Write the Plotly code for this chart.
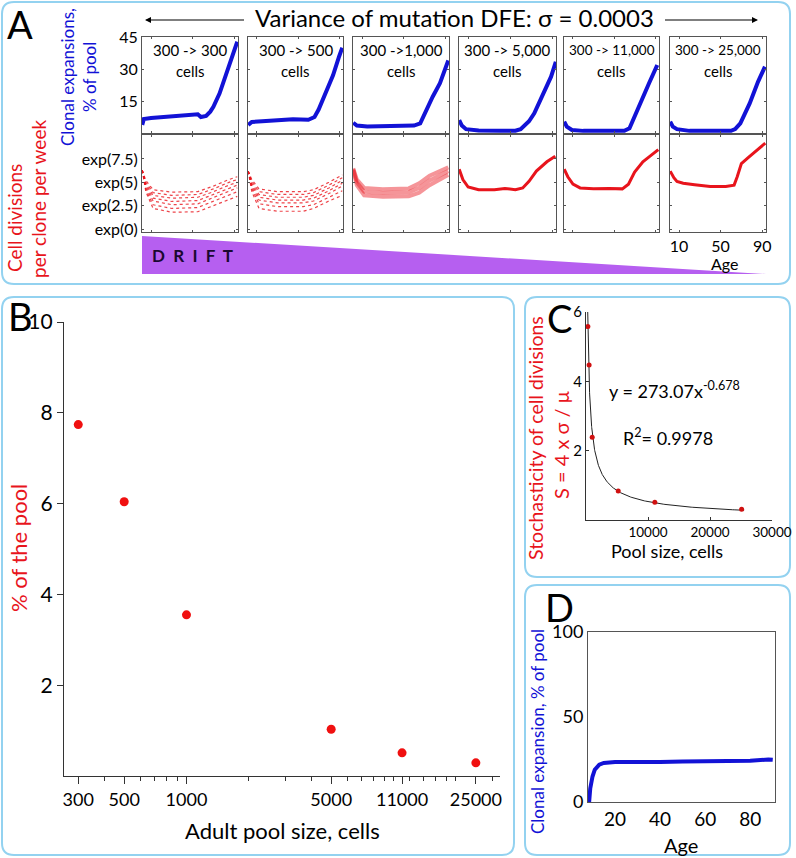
import numpy as np
import plotly.graph_objects as go

W, H = 796, 858
FONT = "Lato"

# ---------------- DATA ----------------
# Panel A: pool transitions
POOL_TEXT = ["300 -> 300", "300 -> 500", "300 ->1,000", "300 -> 5,000", "300 -> 11,000", "300 -> 25,000"]
POOL_TEXT_SIZE = [15, 15, 15, 15, 13.5, 13.5]

# Clonal expansions, % of pool (blue, top row)
BLUE_AGES_1 = [1.5, 3, 10, 20, 30, 40, 50, 55, 58, 63, 67, 70, 76, 83, 89, 93]
BLUE_VALS_1 = [3.8, 6.5, 7.0, 7.3, 7.6, 8.0, 8.3, 8.8, 7.5, 8.0, 10, 12.3, 18.6, 28, 37.3, 42.8]
BLUE_AGES_2 = [1.5, 5, 15, 30, 45, 60, 66, 70, 75, 80, 84, 90, 93]
BLUE_VALS_2 = [3.8, 5.2, 5.5, 6.2, 6.5, 6.2, 7.5, 11, 17, 22, 27, 36, 40]
BLUE_AGES_3 = [1.5, 5, 15, 30, 45, 60, 66, 72, 78, 85, 90, 93]
BLUE_VALS_3 = [4.8, 3.5, 3.0, 3.2, 3.3, 3.5, 4.5, 10.8, 17, 23.3, 30, 34]
BLUE_AGES_4 = [1.5, 4, 8, 20, 40, 55, 60, 63, 68, 73, 82, 89, 93.5]
BLUE_VALS_4 = [6.0, 3.5, 1.8, 1.2, 1.0, 1.1, 1.8, 3, 5.5, 9.2, 18.6, 26.4, 33.4]
BLUE_AGES_5 = [1.5, 4, 9, 20, 40, 60, 65, 70, 75, 84, 92]
BLUE_VALS_5 = [5.3, 3.0, 1.4, 1.0, 1.0, 1.0, 2.2, 8, 14, 23.3, 31.9]
BLUE_AGES_6 = [1.5, 4, 8, 20, 40, 60, 64, 69, 78, 86, 92.7]
BLUE_VALS_6 = [5.3, 3.0, 1.8, 1.0, 1.0, 1.0, 1.8, 4.5, 13.9, 24, 31.1]

# Cell divisions per clone per week (log scale, red, bottom row)
RED_AGES_1 = [1.5, 5, 12, 30, 55, 70, 85, 93]
RED_STRANDS_1 = [
    [6.3, 5.2, 4.2, 3.95, 4.0, 4.6, 5.3, 5.6],
    [6.3, 5.0, 3.9, 3.6, 3.7, 4.3, 5.0, 5.3],
    [6.3, 4.8, 3.6, 3.3, 3.4, 4.0, 4.7, 5.0],
    [6.3, 4.6, 3.3, 2.95, 3.05, 3.7, 4.4, 4.7],
    [6.3, 4.4, 3.0, 2.6, 2.7, 3.35, 4.05, 4.4],
    [6.3, 4.2, 2.6, 2.2, 2.3, 2.95, 3.6, 4.0],
    [6.3, 4.0, 2.2, 1.8, 1.85, 2.5, 3.1, 3.5],
]
RED_AGES_2 = [1.5, 5, 12, 30, 55, 65, 80, 93]
RED_STRANDS_2 = [
    [6.2, 5.3, 4.3, 4.0, 4.0, 4.2, 5.0, 5.8],
    [6.2, 5.1, 4.0, 3.7, 3.7, 3.9, 4.7, 5.5],
    [6.2, 4.9, 3.7, 3.4, 3.4, 3.6, 4.4, 5.2],
    [6.2, 4.7, 3.4, 3.1, 3.1, 3.3, 4.1, 4.9],
    [6.2, 4.5, 3.1, 2.8, 2.8, 3.0, 3.8, 4.6],
    [6.2, 4.3, 2.7, 2.4, 2.4, 2.6, 3.4, 4.1],
    [6.2, 4.0, 2.2, 1.9, 1.9, 2.2, 3.0, 3.6],
]
RED_AGES_3 = [1.5, 5, 12, 30, 55, 65, 75, 85, 93]
RED_STRANDS_3 = [
    [6.5, 5.3, 4.4, 4.25, 4.35, 4.9, 5.7, 6.2, 6.6],
    [6.4, 5.0, 4.0, 3.85, 3.95, 4.4, 5.2, 5.8, 6.2],
    [6.3, 4.7, 3.6, 3.45, 3.5, 3.9, 4.7, 5.3, 5.8],
]
RED_AGES_4 = [1.5, 5, 10, 20, 35, 45, 55, 62, 68, 75, 85, 93]
RED_VALS_4 = [6.4, 5.3, 4.5, 4.2, 4.2, 4.35, 4.2, 4.4, 5.1, 6.2, 7.2, 7.8]
RED_AGES_5 = [1.5, 5, 10, 17, 30, 45, 58, 64, 70, 78, 85, 93]
RED_VALS_5 = [6.4, 5.6, 4.8, 4.4, 4.3, 4.35, 4.3, 4.8, 6.1, 7.2, 7.8, 8.5]
RED_AGES_6 = [1.5, 5, 8, 14, 25, 40, 55, 63, 66, 70, 76, 85, 93]
RED_VALS_6 = [6.2, 5.5, 5.1, 4.9, 4.75, 4.55, 4.55, 4.7, 5.6, 7.0, 7.6, 8.5, 9.2]

A_TOP_TICKS = [15, 30, 45]
A_BOT_TICKS = [0, 2.5, 5, 7.5]
A_BOT_TICKTEXT = ["exp(0)", "exp(2.5)", "exp(5)", "exp(7.5)"]
A_AGE_TICKS = [10, 50, 90]

# Panel B
POOL_SIZES = [300, 500, 1000, 5000, 11000, 25000]
PCT_POOL = [7.74, 6.04, 3.55, 1.03, 0.51, 0.29]
B_XTICKS = [300, 500, 1000, 5000, 11000, 25000]
B_YTICKS = [2, 4, 6, 8, 10]

# Panel C
C_POOL = [300, 500, 1000, 5200, 11100, 25100]
C_STOCH = [5.58, 4.47, 2.39, 0.84, 0.51, 0.31]
C_XTICKS = [10000, 20000, 30000]
C_YTICKS = [2, 4, 6]
FIT_A = 273.07
FIT_B = -0.678

# Panel D
D_AGES = [8.5, 9, 10, 11, 13, 15, 20, 30, 40, 50, 60, 70, 80, 88, 90]
D_CLONAL = [0, 8, 15, 19, 22, 23, 23.5, 23.3, 23.5, 23.8, 24, 23.8, 24.2, 25, 24.8]
D_XTICKS = [20, 40, 60, 80]
D_YTICKS = [0, 50, 100]

# ---------------- HELPERS ----------------
def X(p):
    return p / W


def Y(p):
    return 1 - p / H


BLUE = "#1212d6"
RED = "#e8141c"
AXC = "#555555"

fig = go.Figure()
layout = {}
annotations = []
shapes = []

A_BOX_X = [(142, 238), (248, 343), (353, 449), (459, 556), (564, 659), (670, 766)]
TOP_Y = (37, 133)
BOT_Y = (135, 232)

blue_sets = [(BLUE_AGES_1, BLUE_VALS_1), (BLUE_AGES_2, BLUE_VALS_2), (BLUE_AGES_3, BLUE_VALS_3),
             (BLUE_AGES_4, BLUE_VALS_4), (BLUE_AGES_5, BLUE_VALS_5), (BLUE_AGES_6, BLUE_VALS_6)]
red_sets = [(RED_AGES_1, RED_STRANDS_1, "dot"), (RED_AGES_2, RED_STRANDS_2, "dot"),
            (RED_AGES_3, RED_STRANDS_3, "band"),
            (RED_AGES_4, [RED_VALS_4], "solid"), (RED_AGES_5, [RED_VALS_5], "solid"),
            (RED_AGES_6, [RED_VALS_6], "solid")]

box_common = dict(showline=True, linecolor=AXC, linewidth=1, mirror="ticks", showgrid=False,
                  zeroline=False, ticks="inside", ticklen=2, tickcolor=AXC,
                  tickfont=dict(family=FONT, size=16, color="black"))

for i in range(6):
    ti = i + 1
    bi = i + 7
    x0, x1 = A_BOX_X[i]
    layout[f"xaxis{ti}"] = dict(box_common, domain=[X(x0), X(x1)], range=[1.3, 93.7],
                                tickvals=A_AGE_TICKS, showticklabels=False, anchor=f"y{ti}")
    layout[f"yaxis{ti}"] = dict(box_common, domain=[Y(TOP_Y[1]), Y(TOP_Y[0])], range=[0, 45],
                                tickvals=A_TOP_TICKS, showticklabels=(i == 0), anchor=f"x{ti}")
    layout[f"xaxis{bi}"] = dict(box_common, domain=[X(x0), X(x1)], range=[1.3, 93.7],
                                tickvals=A_AGE_TICKS, showticklabels=(i == 5), anchor=f"y{bi}")
    layout[f"yaxis{bi}"] = dict(box_common, domain=[Y(BOT_Y[1]), Y(BOT_Y[0])], range=[-0.32, 10.07],
                                tickvals=A_BOT_TICKS, ticktext=A_BOT_TICKTEXT,
                                showticklabels=(i == 0), anchor=f"x{bi}")
    ax_, ay_ = blue_sets[i]
    fig.add_trace(go.Scatter(x=ax_, y=ay_, mode="lines", line=dict(color=BLUE, width=4),
                             xaxis=f"x{ti}", yaxis=f"y{ti}", showlegend=False, hoverinfo="skip"))
    rages, strands, style = red_sets[i]
    for s in strands:
        if style == "dot":
            ln = dict(color="rgba(232,20,28,0.8)", width=1.2, dash="dot")
        elif style == "band":
            ln = dict(color="rgba(232,20,28,0.45)", width=4)
        else:
            ln = dict(color=RED, width=3)
        fig.add_trace(go.Scatter(x=rages, y=s, mode="lines", line=ln,
                                 xaxis=f"x{bi}", yaxis=f"y{bi}", showlegend=False, hoverinfo="skip"))
    cx = (x0 + x1) / 2
    annotations.append(dict(x=X(cx), y=Y(50), xref="paper", yref="paper", text=POOL_TEXT[i],
                            showarrow=False, font=dict(family=FONT, size=POOL_TEXT_SIZE[i], color="black"),
                            xanchor="center", yanchor="middle"))
    annotations.append(dict(x=X(cx), y=Y(71), xref="paper", yref="paper", text="cells",
                            showarrow=False, font=dict(family=FONT, size=15, color="black"),
                            xanchor="center", yanchor="middle"))

# Panel B
layout["xaxis13"] = dict(type="log", domain=[X(64), X(500)], range=[np.log10(256), np.log10(32700)],
                         anchor="y13", showline=True, linecolor="#333", linewidth=1.2, showgrid=False,
                         zeroline=False, ticks="outside", ticklen=7, tickcolor="#333",
                         tickvals=B_XTICKS, ticktext=[str(v) for v in B_XTICKS],
                         tickfont=dict(family=FONT, size=18, color="black"),
                         minor=dict(tickvals=[400, 600, 700, 800, 900, 2000, 3000, 4000, 6000, 7000, 8000,
                                              9000, 10000, 12000, 14000, 16000, 18000, 20000, 30000],
                                    ticks="outside", ticklen=4, tickcolor="#333"))
layout["yaxis13"] = dict(domain=[Y(776), Y(322)], range=[0, 10], anchor="x13", showline=True,
                         linecolor="#333", linewidth=1.2, showgrid=False, zeroline=False,
                         ticks="outside", ticklen=6, tickcolor="#333", tickvals=B_YTICKS,
                         tickfont=dict(family=FONT, size=21, color="black"))
fig.add_trace(go.Scatter(x=POOL_SIZES, y=PCT_POOL, mode="markers",
                         marker=dict(color="#f01010", size=9), xaxis="x13", yaxis="y13",
                         showlegend=False))

# Panel C
layout["xaxis14"] = dict(domain=[X(586), X(772)], range=[0, 30000], anchor="y14", showline=True,
                         linecolor="#333", linewidth=1, showgrid=False, zeroline=False,
                         ticks="inside", ticklen=3, tickcolor="#333", tickvals=C_XTICKS,
                         ticktext=[str(v) for v in C_XTICKS],
                         tickfont=dict(family=FONT, size=13.5, color="black"))
layout["yaxis14"] = dict(domain=[Y(520), Y(312)], range=[0, 6], anchor="x14", showline=True,
                         linecolor="#333", linewidth=1, showgrid=False, zeroline=False,
                         ticks="inside", ticklen=3, tickcolor="#333", tickvals=C_YTICKS,
                         tickfont=dict(family=FONT, size=15, color="black"))
fit_x = np.geomspace((6 / FIT_A) ** (1 / FIT_B), 25500, 300)
fig.add_trace(go.Scatter(x=fit_x, y=FIT_A * fit_x ** FIT_B, mode="lines",
                         line=dict(color="#222", width=1), xaxis="x14", yaxis="y14",
                         showlegend=False, hoverinfo="skip"))
fig.add_trace(go.Scatter(x=C_POOL, y=C_STOCH, mode="markers", marker=dict(color="#d01010", size=5),
                         xaxis="x14", yaxis="y14", showlegend=False))

# Panel D
layout["xaxis15"] = dict(domain=[X(588), X(775)], range=[8, 91], anchor="y15", showline=True,
                         linecolor=AXC, linewidth=1, mirror=True, showgrid=False, zeroline=False,
                         ticks="", tickvals=D_XTICKS,
                         tickfont=dict(family=FONT, size=19, color="black"))
layout["yaxis15"] = dict(domain=[Y(802), Y(632)], range=[0, 100], anchor="x15", showline=True,
                         linecolor=AXC, linewidth=1, mirror=True, showgrid=False, zeroline=False,
                         ticks="", tickvals=D_YTICKS,
                         tickfont=dict(family=FONT, size=18, color="black"))
fig.add_trace(go.Scatter(x=D_AGES, y=D_CLONAL, mode="lines", line=dict(color=BLUE, width=4),
                         xaxis="x15", yaxis="y15", showlegend=False, hoverinfo="skip"))


# ---------------- DECORATION ----------------
def rrect(x0, y0, x1, y1, r=12):
    return (f"M {X(x0 + r)},{Y(y0)} L {X(x1 - r)},{Y(y0)} Q {X(x1)},{Y(y0)} {X(x1)},{Y(y0 + r)} "
            f"L {X(x1)},{Y(y1 - r)} Q {X(x1)},{Y(y1)} {X(x1 - r)},{Y(y1)} "
            f"L {X(x0 + r)},{Y(y1)} Q {X(x0)},{Y(y1)} {X(x0)},{Y(y1 - r)} "
            f"L {X(x0)},{Y(y0 + r)} Q {X(x0)},{Y(y0)} {X(x0 + r)},{Y(y0)} Z")


BORDER = "#93d2f0"
for (a, b, c, d) in [(2, 2, 790, 284), (2, 297, 514, 855), (525, 297, 790, 577), (525, 585, 790, 855)]:
    shapes.append(dict(type="path", path=rrect(a, b, c, d), xref="paper", yref="paper",
                       line=dict(color=BORDER, width=2), fillcolor="rgba(0,0,0,0)", layer="below"))

# Drift wedge
shapes.append(dict(type="path", xref="paper", yref="paper",
                   path=f"M {X(142)},{Y(236)} L {X(766)},{Y(274)} L {X(142)},{Y(274)} Z",
                   fillcolor="#b65ff0", line=dict(width=0), layer="below"))


def ann(x, y, text, size, color="black", angle=0, xa="center", ya="middle", align="center"):
    annotations.append(dict(x=X(x), y=Y(y), xref="paper", yref="paper", text=text, showarrow=False,
                            font=dict(family=FONT, size=size, color=color), textangle=angle,
                            xanchor=xa, yanchor=ya, align=align))


# Panel A title with arrows
ann(454, 18, "Variance of mutation DFE: σ = 0.0003", 24)
annotations.append(dict(x=X(145), y=Y(20), xref="paper", yref="paper", ax=102, ay=0, axref="pixel",
                        ayref="pixel", showarrow=True, arrowhead=2, arrowsize=1, arrowwidth=1.2,
                        arrowcolor="black", text=" "))
annotations.append(dict(x=X(758), y=Y(20), xref="paper", yref="paper", ax=-96, ay=0, axref="pixel",
                        ayref="pixel", showarrow=True, arrowhead=2, arrowsize=1, arrowwidth=1.2,
                        arrowcolor="black", text=" "))

ann(20, 24, "A", 38)
ann(67, 77, "Clonal expansions,", 17, BLUE, -90)
ann(89, 77, "% of pool", 17, BLUE, -90)
ann(15, 218, "Cell divisions", 19, RED, -90)
ann(39, 199, "per clone per week", 19, RED, -90)
ann(192, 255, "<b>D  R  I  F  T</b>", 17, "#1a0830")
ann(724, 263, "Age", 16)

# Panel B
ann(20, 316, "B", 38)
ann(18, 548, "% of the pool", 22, RED, -90)
ann(282, 830, "Adult pool size, cells", 22)

# Panel C
ann(559, 318, "C", 38)
ann(535, 438, "Stochasticity of cell divisions", 19.5, RED, -90)
ann(561, 445, "S = 4 x σ / μ", 20, RED, -90)
ann(674, 390, "y = 273.07x<sup>-0.678</sup>", 18)
ann(668, 437, "R<sup>2</sup>= 0.9978", 18)
ann(667, 551, "Pool size, cells", 18)

# Panel D
ann(559, 607, "D", 38)
ann(537, 732, "Clonal expansion, % of pool", 17, BLUE, -90)
ann(681, 845, "Age", 20)

layout.update(dict(width=W, height=H,
                   margin=dict(l=0, r=0, t=0, b=0, pad=0, autoexpand=False),
                   paper_bgcolor="white", plot_bgcolor="white", showlegend=False,
                   annotations=annotations, shapes=shapes, font=dict(family=FONT)))
fig.update_layout(**layout)
fig.write_html("out.html", config={"displayModeBar": False, "staticPlot": True},
               post_script="document.body.style.margin='0px';document.body.style.padding='0px';")
